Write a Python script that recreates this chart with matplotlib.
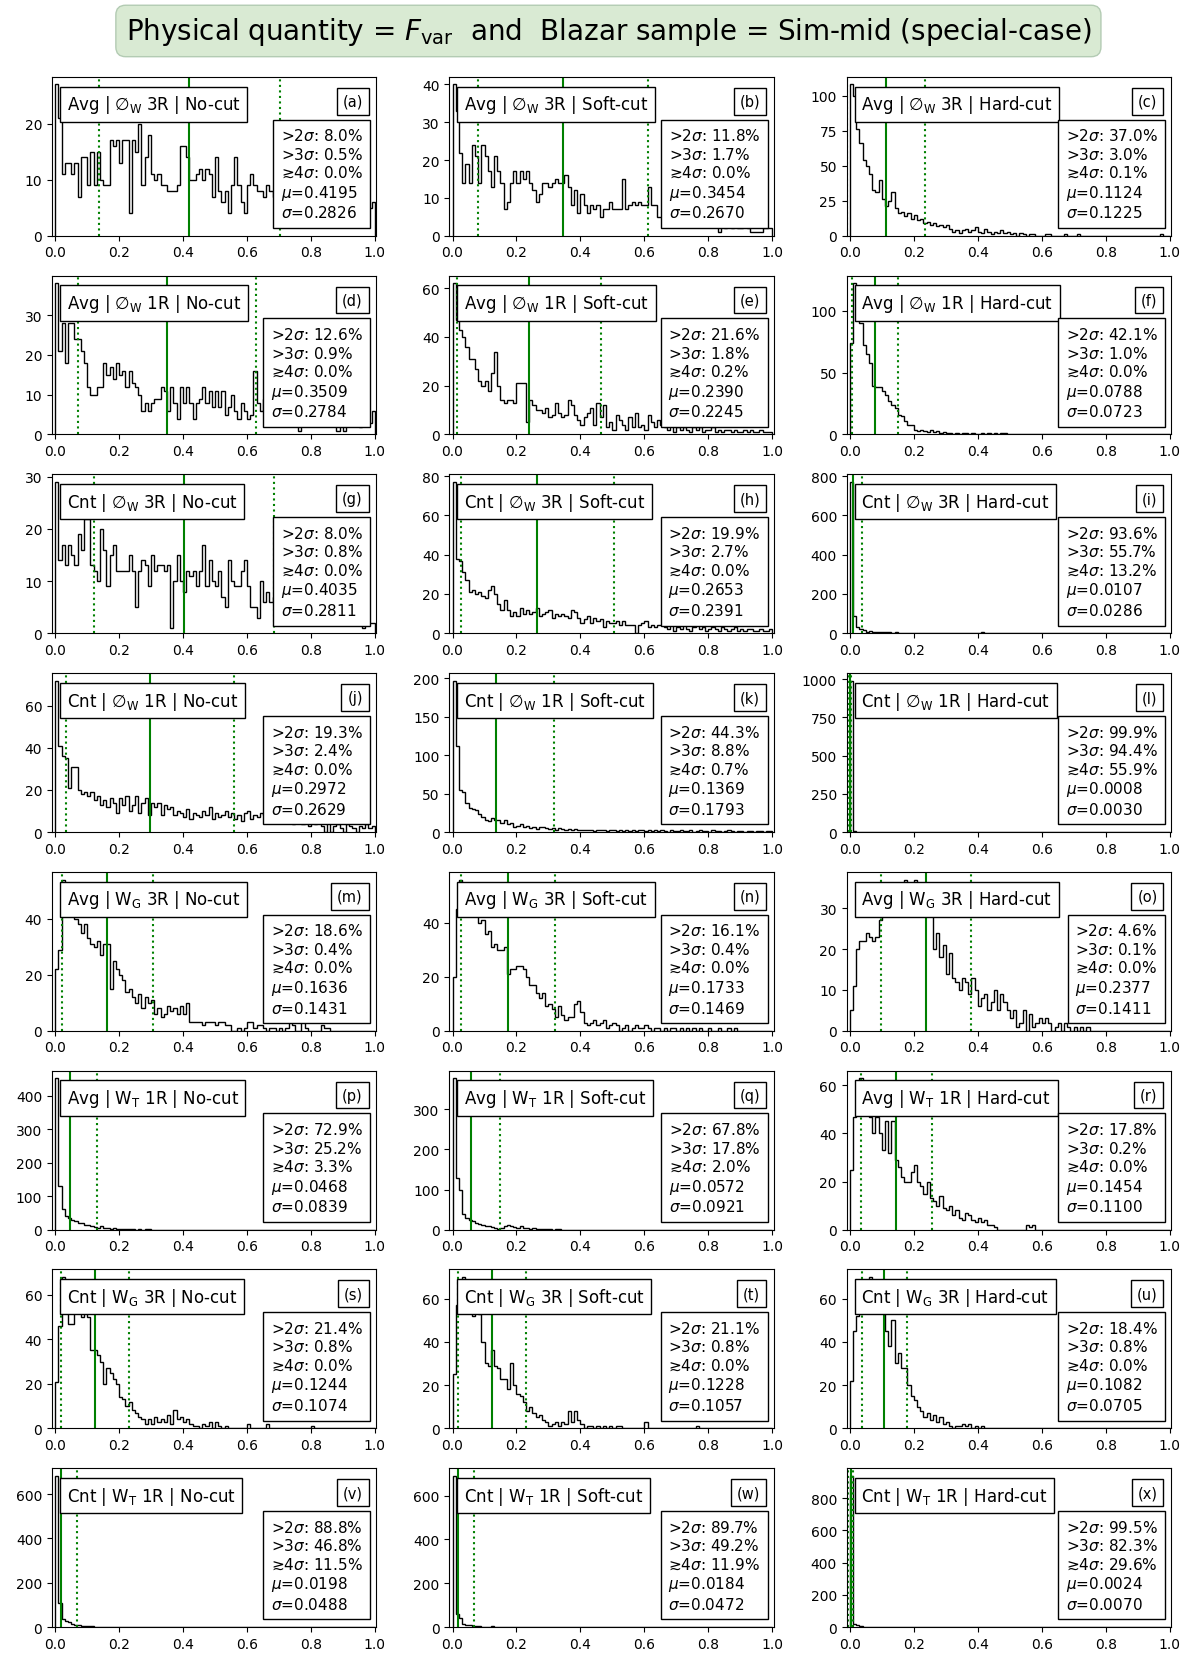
import numpy as np
import matplotlib.pyplot as plt

# bin counts, 100 bins of width 0.01 over [0, 1]
counts_a = [27, 21, 11, 13, 13, 11, 13, 7, 14, 14,
            9, 15, 9, 15, 10, 9, 9, 17, 16, 17,
            13, 17, 17, 4, 17, 15, 20, 9, 14, 18,
            11, 10, 11, 9, 9, 8, 8, 8, 9, 16,
            16, 14, 10, 10, 11, 12, 10, 12, 11, 7,
            14, 8, 6, 8, 4, 9, 14, 9, 6, 4,
            9, 11, 9, 8, 8, 7, 9, 8, 7, 8,
            8, 7, 9, 8, 6, 7, 8, 6, 7, 8,
            6, 7, 5, 7, 6, 8, 5, 6, 7, 5,
            6, 5, 7, 6, 5, 6, 5, 6, 5, 6]
counts_b = [40, 33, 22, 14, 19, 14, 24, 21, 14, 24,
            21, 17, 13, 21, 17, 14, 7, 9, 14, 17,
            14, 17, 15, 17, 14, 12, 9, 11, 14, 14,
            13, 14, 15, 14, 14, 16, 13, 8, 12, 6,
            11, 8, 6, 8, 7, 8, 5, 7, 7, 9,
            7, 7, 7, 15, 7, 8, 9, 8, 9, 8,
            8, 13, 8, 8, 5, 5, 6, 5, 6, 4,
            5, 5, 4, 5, 4, 3, 4, 4, 3, 4,
            3, 3, 3, 1, 3, 2, 3, 2, 3, 2,
            2, 3, 2, 1, 1, 1, 1, 2, 2, 2]
counts_c = [108, 100, 76, 66, 54, 50, 44, 33, 31, 40,
            26, 21, 25, 31, 20, 16, 17, 14, 16, 12,
            15, 11, 12, 9, 10, 8, 9, 7, 8, 6,
            8, 5, 3, 4, 2, 4, 5, 3, 4, 6,
            3, 2, 5, 3, 1, 3, 2, 4, 2, 3,
            1, 2, 0, 2, 1, 0, 1, 1, 0, 0,
            0, 1, 1, 0, 0, 0, 0, 1, 0, 0,
            0, 1, 0, 0, 0, 0, 0, 0, 0, 0,
            0, 0, 0, 0, 0, 0, 0, 0, 0, 0,
            0, 0, 0, 0, 0, 0, 0, 1, 0, 0]
counts_d = [38, 21, 28, 18, 28, 28, 24, 24, 21, 18,
            12, 10, 10, 12, 12, 18, 15, 17, 14, 18,
            15, 16, 12, 16, 13, 12, 10, 6, 8, 6,
            8, 9, 9, 12, 11, 6, 12, 8, 4, 12,
            8, 12, 8, 4, 8, 9, 12, 8, 11, 7,
            11, 7, 11, 5, 7, 10, 6, 4, 8, 6,
            4, 5, 16, 8, 6, 9, 5, 7, 6, 8,
            5, 6, 7, 4, 6, 5, 1, 5, 6, 4,
            5, 3, 6, 4, 5, 3, 4, 5, 1, 4,
            1, 3, 4, 3, 5, 2, 4, 3, 3, 6]
counts_e = [62, 47, 43, 40, 36, 31, 31, 27, 22, 20,
            22, 18, 25, 34, 20, 14, 13, 14, 14, 13,
            21, 21, 21, 5, 14, 12, 10, 10, 9, 11,
            7, 8, 13, 9, 7, 8, 14, 12, 8, 6,
            4, 7, 9, 11, 4, 13, 7, 12, 3, 5,
            2, 8, 6, 4, 2, 7, 3, 9, 3, 4,
            2, 8, 5, 3, 6, 4, 3, 2, 4, 1,
            3, 2, 3, 2, 1, 3, 2, 3, 1, 2,
            2, 3, 1, 2, 1, 2, 2, 1, 2, 1,
            1, 2, 1, 2, 1, 1, 2, 1, 1, 1]
counts_f = [74, 122, 113, 90, 72, 65, 58, 39, 38, 38,
            35, 32, 27, 24, 21, 16, 15, 11, 8, 8,
            4, 3, 4, 3, 2, 4, 2, 3, 1, 2,
            1, 1, 0, 1, 0, 1, 1, 0, 1, 0,
            0, 1, 0, 1, 0, 1, 0, 1, 1]
counts_g = [29, 14, 17, 13, 17, 15, 13, 19, 16, 22,
            22, 13, 12, 10, 20, 16, 9, 15, 17, 12,
            12, 12, 12, 15, 12, 5, 12, 14, 13, 9,
            15, 12, 13, 13, 12, 13, 1, 10, 15, 10,
            8, 12, 11, 12, 9, 12, 17, 9, 14, 10,
            9, 12, 7, 5, 14, 10, 9, 9, 12, 14,
            9, 5, 5, 3, 10, 6, 8, 6, 7, 5,
            6, 5, 4, 5, 6, 4, 5, 3, 4, 5,
            4, 3, 4, 5, 3, 4, 3, 2, 4, 3,
            3, 2, 3, 2, 2, 3, 1, 2, 2, 2]
counts_h = [77, 38, 37, 31, 27, 21, 22, 20, 21, 19,
            18, 22, 24, 20, 15, 12, 17, 12, 9, 11,
            9, 13, 10, 12, 10, 11, 13, 9, 10, 11,
            12, 8, 10, 9, 10, 9, 8, 12, 11, 8,
            5, 7, 9, 5, 8, 6, 7, 3, 6, 5,
            5, 6, 4, 6, 4, 4, 4, 0, 4, 5,
            6, 3, 4, 3, 4, 4, 3, 2, 4, 1,
            3, 2, 4, 2, 1, 3, 4, 2, 3, 1,
            2, 3, 2, 1, 3, 2, 1, 2, 3, 1,
            2, 1, 2, 2, 1, 1, 2, 1, 1, 2]
counts_i = [770, 90, 30, 20, 19, 8, 9, 6, 7, 5,
            6, 4, 5, 3, 4, 3, 2, 3, 2, 3,
            2, 2, 1, 2, 1, 2, 2, 1, 1, 2,
            1, 0, 1, 0, 1, 0, 0, 0, 0, 0,
            0, 8]
counts_j = [72, 41, 36, 35, 21, 31, 31, 20, 18, 19,
            17, 19, 15, 17, 13, 15, 12, 16, 14, 9,
            16, 13, 17, 10, 13, 17, 9, 14, 16, 8,
            14, 12, 14, 8, 13, 11, 12, 8, 10, 9,
            7, 11, 6, 9, 8, 7, 10, 8, 12, 6,
            9, 7, 8, 10, 7, 9, 6, 8, 5, 9,
            10, 6, 8, 7, 9, 8, 7, 6, 8, 5,
            7, 6, 5, 7, 4, 6, 5, 4, 6, 3,
            5, 4, 6, 3, 0, 5, 0, 3, 4, 2,
            0, 4, 3, 2, 0, 3, 2, 4, 2, 3]
counts_k = [197, 112, 55, 52, 38, 31, 30, 29, 24, 19,
            15, 14, 18, 15, 16, 12, 15, 11, 12, 7,
            8, 11, 7, 8, 5, 6, 4, 6, 7, 5,
            4, 5, 3, 5, 4, 3, 4, 2, 4, 3,
            2, 3, 2, 3, 1, 2, 3, 2, 1, 2,
            2, 1, 2, 1, 3, 1, 2, 1, 2, 2,
            1, 3, 1, 2, 1, 2, 1, 0, 2, 1,
            1, 2, 1, 1, 2, 0, 1, 2, 1, 1,
            0, 2, 1, 1, 0, 1, 2, 1, 0, 1,
            1, 0, 1, 1, 0, 1, 1, 0, 1, 1]
counts_l = [990, 6, 2, 1, 1]
counts_m = [22, 29, 54, 50, 48, 47, 40, 38, 35, 38,
            33, 31, 30, 32, 27, 31, 31, 15, 25, 22,
            20, 18, 14, 15, 12, 10, 13, 8, 12, 10,
            11, 6, 8, 5, 6, 9, 7, 8, 6, 9,
            6, 10, 3, 3, 3, 3, 2, 3, 3, 3,
            2, 3, 3, 2, 2, 0, 0, 1, 0, 1,
            3, 3, 1, 2, 2, 1, 0, 1, 1, 0,
            1, 0, 1, 3, 2, 0, 0, 3, 1, 0,
            0, 0, 0, 2, 1, 1]
counts_n = [20, 45, 56, 50, 52, 47, 44, 43, 40, 41,
            36, 37, 31, 32, 30, 30, 31, 21, 23, 23,
            24, 24, 23, 20, 17, 17, 14, 12, 14, 9,
            10, 8, 5, 9, 6, 4, 5, 5, 10, 11,
            7, 3, 2, 3, 4, 2, 3, 4, 1, 2,
            3, 2, 0, 1, 2, 0, 1, 2, 1, 1,
            2, 1, 0, 1, 1, 0, 1, 0, 1, 1,
            0, 1, 0, 1, 0, 1, 0, 1, 0, 0,
            1, 0, 0, 1, 0, 0, 1, 0, 1]
counts_o = [5, 11, 20, 22, 22, 24, 23, 22, 23, 27,
            30, 31, 34, 29, 33, 36, 35, 37, 30, 32,
            37, 34, 31, 35, 30, 28, 20, 24, 18, 21,
            14, 19, 13, 12, 10, 13, 12, 9, 13, 10,
            6, 8, 9, 5, 7, 10, 5, 9, 7, 5,
            3, 5, 1, 2, 5, 0, 4, 1, 2, 3,
            2, 3, 2, 0, 1, 2, 0, 2, 1, 0,
            1, 0, 1, 0, 1]
counts_p = [452, 130, 60, 40, 35, 28, 25, 20, 18, 15,
            13, 10, 8, 6, 10, 4, 5, 3, 4, 2,
            3, 1, 2, 1, 1, 0, 1, 0, 1, 1]
counts_q = [378, 128, 100, 40, 30, 25, 22, 17, 15, 12,
            10, 8, 6, 4, 2, 3, 10, 12, 8, 6,
            5, 10, 4, 3, 2, 4, 1, 2, 1, 1,
            2, 0, 1, 1]
counts_r = [25, 47, 55, 63, 60, 50, 47, 40, 47, 40,
            33, 45, 32, 45, 29, 26, 22, 20, 20, 24,
            27, 20, 18, 15, 20, 13, 12, 10, 14, 9,
            8, 10, 6, 8, 5, 4, 7, 6, 4, 3,
            5, 3, 4, 2, 2, 1, 0, 0, 0, 0,
            0, 0, 0, 0, 0, 2, 1, 2]
counts_s = [21, 46, 68, 55, 47, 47, 60, 58, 50, 55,
            50, 35, 35, 33, 30, 20, 27, 25, 22, 20,
            14, 13, 10, 12, 8, 7, 5, 4, 2, 4,
            2, 5, 3, 4, 3, 6, 2, 8, 4, 5,
            3, 4, 2, 1, 1, 0, 2, 1, 3, 0,
            3, 1, 0, 1, 0, 0, 0, 0, 0, 0,
            2, 0, 0, 0, 0, 0, 2, 0, 0, 0,
            0, 0, 0, 0, 0, 0, 0, 0, 0, 0,
            1]
counts_t = [25, 57, 55, 70, 58, 64, 52, 56, 53, 40,
            30, 29, 36, 29, 28, 23, 23, 18, 30, 20,
            16, 15, 12, 8, 10, 7, 5, 6, 4, 3,
            1, 2, 3, 1, 3, 2, 8, 3, 8, 4,
            2, 0, 1, 1, 0, 1, 0, 1, 0, 1,
            0, 1, 1, 0, 0, 0, 0, 0, 0, 0,
            3, 0, 0, 0, 0, 0, 0, 0, 0, 0,
            0, 0, 0, 0, 0, 0, 1]
counts_u = [22, 45, 52, 55, 62, 68, 70, 60, 55, 57,
            60, 45, 38, 50, 30, 35, 28, 28, 20, 15,
            13, 10, 8, 5, 7, 4, 6, 3, 5, 2,
            3, 1, 0, 1, 1, 2, 1, 2, 0, 1,
            0, 1]
counts_v = [683, 110, 35, 28, 22, 15, 10, 8, 5, 6, 3, 4, 2, 1, 1]
counts_w = [690, 60, 40, 15, 10, 8, 6, 4, 3, 2, 1, 1, 5, 1]
counts_x = [940, 18, 10, 4, 2, 1]

all_counts = [counts_a, counts_b, counts_c, counts_d, counts_e, counts_f,
              counts_g, counts_h, counts_i, counts_j, counts_k, counts_l,
              counts_m, counts_n, counts_o, counts_p, counts_q, counts_r,
              counts_s, counts_t, counts_u, counts_v, counts_w, counts_x]

# statistics printed in each panel
gt2 = [8.0, 11.8, 37.0, 12.6, 21.6, 42.1, 8.0, 19.9, 93.6, 19.3, 44.3, 99.9,
       18.6, 16.1, 4.6, 72.9, 67.8, 17.8, 21.4, 21.1, 18.4, 88.8, 89.7, 99.5]
gt3 = [0.5, 1.7, 3.0, 0.9, 1.8, 1.0, 0.8, 2.7, 55.7, 2.4, 8.8, 94.4,
       0.4, 0.4, 0.1, 25.2, 17.8, 0.2, 0.8, 0.8, 0.8, 46.8, 49.2, 82.3]
ge4 = [0.0, 0.0, 0.1, 0.0, 0.2, 0.0, 0.0, 0.0, 13.2, 0.0, 0.7, 55.9,
       0.0, 0.0, 0.0, 3.3, 2.0, 0.0, 0.0, 0.0, 0.0, 11.5, 11.9, 29.6]
mus = [0.4195, 0.3454, 0.1124, 0.3509, 0.2390, 0.0788, 0.4035, 0.2653, 0.0107,
       0.2972, 0.1369, 0.0008, 0.1636, 0.1733, 0.2377, 0.0468, 0.0572, 0.1454,
       0.1244, 0.1228, 0.1082, 0.0198, 0.0184, 0.0024]
sigmas = [0.2826, 0.2670, 0.1225, 0.2784, 0.2245, 0.0723, 0.2811, 0.2391, 0.0286,
          0.2629, 0.1793, 0.0030, 0.1431, 0.1469, 0.1411, 0.0839, 0.0921, 0.1100,
          0.1074, 0.1057, 0.0705, 0.0488, 0.0472, 0.0070]

row_labels = [r"Avg | ∅$_{\rm W}$ 3R", r"Avg | ∅$_{\rm W}$ 1R",
              r"Cnt | ∅$_{\rm W}$ 3R", r"Cnt | ∅$_{\rm W}$ 1R",
              r"Avg | W$_{\rm G}$ 3R", r"Avg | W$_{\rm T}$ 1R",
              r"Cnt | W$_{\rm G}$ 3R", r"Cnt | W$_{\rm T}$ 1R"]
cuts = ["No-cut", "Soft-cut", "Hard-cut"]
letters = "abcdefghijklmnopqrstuvwx"

edges = np.linspace(0, 1, 101)

fig = plt.figure(figsize=(12, 16.65), dpi=100)
axes = fig.subplots(8, 3)
fig.subplots_adjust(left=0.0433, right=0.976, top=0.9532, bottom=0.0222,
                    wspace=0.2246, hspace=0.2516)

for n, ax in enumerate(axes.flat):
    row, col = divmod(n, 3)
    c = np.zeros(100)
    c[:len(all_counts[n])] = all_counts[n]
    ax.stairs(c, edges, color="black", lw=1.0)

    mu, sd = mus[n], sigmas[n]
    ax.axvline(mu, color="green", lw=1.5)
    ax.axvline(mu - sd, color="green", ls=":", lw=1.5)
    ax.axvline(mu + sd, color="green", ls=":", lw=1.5)
    ax.set_xlim(-0.01, 1.005)
    ax.set_xticks([0, 0.2, 0.4, 0.6, 0.8, 1.0])

    ax.text(0.045, 0.897, row_labels[row] + " | " + cuts[col],
            transform=ax.transAxes, ha="left", va="top", fontsize=12, zorder=5,
            bbox=dict(boxstyle="square,pad=0.4", fc="white", ec="black", lw=1.0))
    ax.text(0.958, 0.894, "(" + letters[n] + ")",
            transform=ax.transAxes, ha="right", va="top", fontsize=10.5, zorder=5,
            bbox=dict(boxstyle="square,pad=0.4", fc="white", ec="black", lw=1.0))
    stats = (">2$\\sigma$: %.1f%%\n>3$\\sigma$: %.1f%%\n≳4$\\sigma$: %.1f%%\n"
             "$\\mu$=%.4f\n$\\sigma$=%.4f" % (gt2[n], gt3[n], ge4[n], mu, sd))
    ax.text(0.958, 0.096, stats, transform=ax.transAxes, ha="right", va="bottom",
            multialignment="left", fontsize=11, zorder=5,
            bbox=dict(boxstyle="square,pad=0.5", fc="white", ec="black", lw=1.0))

fig.text(0.507, 0.9808,
         r"Physical quantity = $F_{\rm var}$  and  Blazar sample = Sim-mid (special-case)",
         ha="center", va="center", fontsize=20,
         bbox=dict(boxstyle="round,pad=0.35", fc="#d9ead3", ec="#b3cbb3", lw=1.0))

fig.savefig("out.png", dpi=100)
